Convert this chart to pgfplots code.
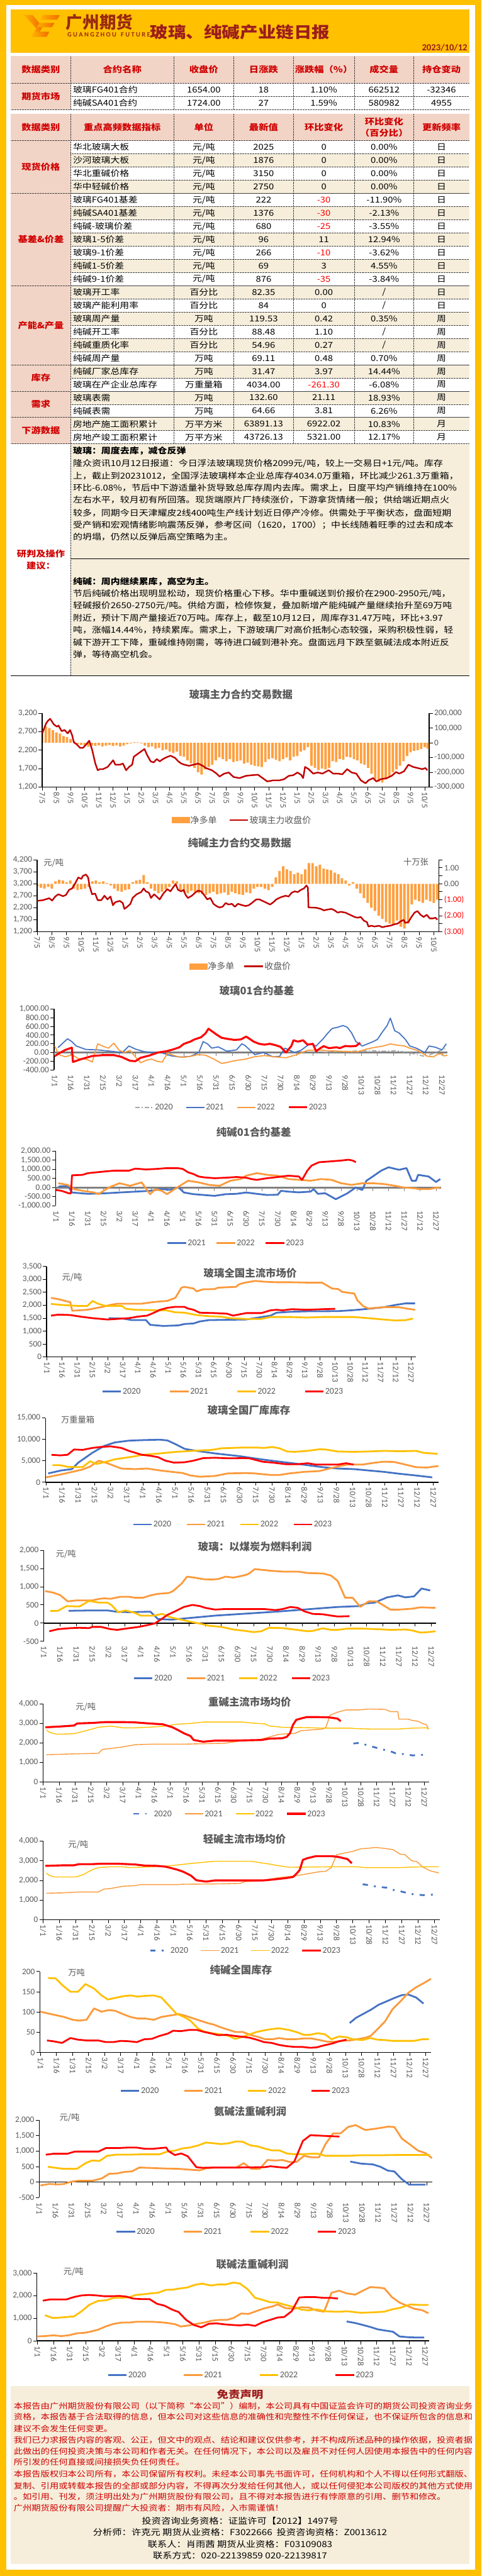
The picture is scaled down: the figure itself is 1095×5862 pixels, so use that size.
\documentclass[border=0pt]{standalone}
\usepackage{fontspec}
\setmainfont{Carlito}
\newfontfamily\cjk[FakeStretch=1.15]{Noto Sans CJK SC}
\newfontfamily\cjkc{Noto Sans CJK SC}
\usepackage{pgfplots}
\pgfplotsset{compat=1.18}

\definecolor{gold}{HTML}{FFC000}
\definecolor{pinkc}{HTML}{F2D4C6}
\definecolor{beige}{HTML}{F6EEDB}
\definecolor{hred}{HTML}{D00000}
\definecolor{dred}{HTML}{9C1C1C}
\definecolor{logored}{HTML}{9A2A10}
\definecolor{logoA}{HTML}{FFB000}
\definecolor{logoB}{HTML}{F26B00}
\definecolor{tgray}{HTML}{595959}
\definecolor{cblue}{HTML}{4472C4}
\definecolor{corange}{HTML}{FB9A3B}
\definecolor{cyellow}{HTML}{FFC000}
\definecolor{cred}{HTML}{FF0000}
\definecolor{cgray}{HTML}{A5A5A5}
\definecolor{zgray}{HTML}{808080}
\definecolor{barorange}{HTML}{FFA040}
\definecolor{darkred}{HTML}{C00000}

\newcommand\fs[1]{\fontsize{#1}{#1}\selectfont}
\newcommand\tf{\cjk\fs{18.5}}
\newcommand\hf{\cjk\bfseries\fs{19}}
\newcommand\rd[1]{\textcolor{red}{#1}}

\pgfplotsset{
  legend image code/.code={\draw[#1, line cap=butt] (0pt,0pt) -- (42pt,0pt);},
  every axis/.append style={
    scale only axis, anchor=north west, scaled ticks=false,
    /pgf/number format/fixed,
    /pgf/number format/assume math mode=true,
    tick label style={font=\fs{19}, text=tgray},
    axis line style={black, line width=1.8pt},
    tick style={black, line width=1.3pt},
    major tick length=8pt, minor tick length=8pt,
    tick align=outside,
    legend columns=-1,
    legend style={draw=none, fill=none, font=\fs{20}, text=tgray, inner sep=0pt, anchor=center},
  },
  season/.style={
    xtick={0,15,...,360},
    xticklabels={1/1,1/16,1/31,2/15,3/2,3/17,4/1,4/16,5/1,5/16,5/31,6/15,6/30,7/15,7/30,8/14,8/29,9/13,9/28,10/13,10/28,11/12,11/27,12/12,12/27},
    x tick label style={rotate=-90, anchor=west},
    axis x line*=bottom, axis y line*=left, tick pos=left,
  },
  zeroaxis/.style={x axis line style={draw=none}, xtick style={draw=none}},
  monthx/.style={
    xtick={0,...,27},
    xticklabels={7/5,8/5,9/5,10/5,11/5,12/5,1/5,2/5,3/5,4/5,5/5,6/5,7/5,8/5,9/5,10/5,11/5,12/5,1/5,2/5,3/5,4/5,5/5,6/5,7/5,8/5,9/5,10/5},
    x tick label style={rotate=-90, anchor=west},
    axis x line*=bottom, axis y line*=left, tick pos=left,
  },
}

% one table row: index, name, unit, value, change, pct, freq
\newcommand\trow[7]{%
  \pgfmathtruncatemacro\ry{320+30*#1}%
  \ifodd#1\relax\fill[beige] (161,\ry) rectangle (1067,\ry+30);\fi
  \node[anchor=west] at (166,\ry+15) {#2};
  \node at (463.5,\ry+15) {#3};
  \node at (599.5,\ry+15) {#4};
  \node at (736.5,\ry+15) {#5};
  \node at (873.5,\ry+15) {#6};
  \node at (1004,\ry+15) {#7};
}

\begin{document}
\begin{tikzpicture}
\useasboundingbox (0pt,0pt) rectangle (1095pt,-5862pt);
\fill[gold] (0pt,0pt) rectangle (1095pt,-5862pt);
\fill[white] (14pt,-11pt) rectangle (1081pt,-5847pt);

\begin{scope}[x=1pt, y=-1pt, every node/.style={inner sep=0pt, font=\tf},
  grid/.style={densely dotted, line width=0.9pt, black!75}]
% ---------- banner
\fill[gold] (25,22) rectangle (1067,120);
\shade[left color=logoA, right color=logoB] (54,34) -- (74,34) -- (94,58) -- (86,68) -- cycle;
\shade[left color=logoA, right color=logoB] (98,34) -- (136,34) -- (130,45) -- (92,45) -- cycle;
\shade[left color=logoA, right color=logoB] (90,52) -- (124,52) -- (118,62) -- (84,62) -- cycle;
\shade[left color=logoA, right color=logoB] (84,62) -- (96,62) -- (84,84) -- (72,84) -- cycle;
\shade[left color=logoA, right color=logoB] (80,72) -- (112,72) -- (106,84) -- (74,84) -- cycle;
\node[anchor=west, font=\cjkc\bfseries\fs{38}, text=logored] at (150,51) {广州期货};
\node[anchor=west, font=\bfseries\fs{15}, text=logored] at (153,79) {G U A N G Z H O U\ \ \ F U T U R E S};
\node[font=\cjk\bfseries\fs{35.5}, text=dred] at (546,73) {玻璃、纯碱产业链日报};
\node[anchor=east, font=\bfseries\fs{21}, text=dred] at (1063,108) {2023/10/12};

% ---------- table 1
\fill[pinkc] (25,128) rectangle (1067,189);
\fill[pinkc] (25,189) rectangle (161,249);
\begin{scope}[every node/.style={inner sep=0pt, font=\hf, text=hred}]
\node at (93,158.5) {数据类别};
\node at (278,158.5) {合约名称};
\node at (463.5,158.5) {收盘价};
\node at (599.5,158.5) {日涨跌};
\node at (736.5,158.5) {涨跌幅（\%）};
\node at (873.5,158.5) {成交量};
\node at (1004,158.5) {持仓变动};
\node at (93,219) {期货市场};
\end{scope}
\node[anchor=west] at (166,204) {玻璃FG401合约};
\node at (463.5,204) {1654.00};
\node at (599.5,204) {18};
\node at (736.5,204) {1.10\%};
\node at (873.5,204) {662512};
\node at (1004,204) {-32346};
\node[anchor=west] at (166,234) {纯碱SA401合约};
\node at (463.5,234) {1724.00};
\node at (599.5,234) {27};
\node at (736.5,234) {1.59\%};
\node at (873.5,234) {580982};
\node at (1004,234) {4955};
\foreach \x in {161,395,532,667,806,941} \draw[grid] (\x,128) -- (\x,249);
\draw[grid] (25,189) -- (1067,189);
\draw[grid] (161,219) -- (1067,219);
\draw[grid] (25,249) -- (1067,249);

% ---------- table 2
\fill[pinkc] (25,259) rectangle (1067,320);
\fill[pinkc] (25,320) rectangle (161,1011);
\trow{0}{华北玻璃大板}{元/吨}{2025}{0}{0.00\%}{日}
\trow{1}{沙河玻璃大板}{元/吨}{1876}{0}{0.00\%}{日}
\trow{2}{华北重碱价格}{元/吨}{3150}{0}{0.00\%}{日}
\trow{3}{华中轻碱价格}{元/吨}{2750}{0}{0.00\%}{日}
\trow{4}{玻璃FG401基差}{元/吨}{222}{\rd{-30}}{-11.90\%}{日}
\trow{5}{纯碱SA401基差}{元/吨}{1376}{\rd{-30}}{-2.13\%}{日}
\trow{6}{纯碱-玻璃价差}{元/吨}{680}{\rd{-25}}{-3.55\%}{日}
\trow{7}{玻璃1-5价差}{元/吨}{96}{11}{12.94\%}{日}
\trow{8}{玻璃9-1价差}{元/吨}{266}{\rd{-10}}{-3.62\%}{日}
\trow{9}{纯碱1-5价差}{元/吨}{69}{3}{4.55\%}{日}
\trow{10}{纯碱9-1价差}{元/吨}{876}{\rd{-35}}{-3.84\%}{日}
\trow{11}{玻璃开工率}{百分比}{82.35}{0.00}{/}{日}
\trow{12}{玻璃产能利用率}{百分比}{84}{0}{/}{日}
\trow{13}{玻璃周产量}{万吨}{119.53}{0.42}{0.35\%}{周}
\trow{14}{纯碱开工率}{百分比}{88.48}{1.10}{/}{周}
\trow{15}{纯碱重质化率}{百分比}{54.96}{0.27}{/}{周}
\trow{16}{纯碱周产量}{万吨}{69.11}{0.48}{0.70\%}{周}
\trow{17}{纯碱厂家总库存}{万吨}{31.47}{3.97}{14.44\%}{周}
\trow{18}{玻璃在产企业总库存}{万重量箱}{4034.00}{\rd{-261.30}}{-6.08\%}{周}
\trow{19}{玻璃表需}{万吨}{132.60}{21.11}{18.93\%}{周}
\trow{20}{纯碱表需}{万吨}{64.66}{3.81}{6.26\%}{周}
\trow{21}{房地产施工面积累计}{万平方米}{63891.13}{6922.02}{10.83\%}{月}
\trow{22}{房地产竣工面积累计}{万平方米}{43726.13}{5321.00}{12.17\%}{月}
\begin{scope}[every node/.style={inner sep=0pt, font=\hf, text=hred}]
\node at (93,289.5) {数据类别};
\node at (278,289.5) {重点高频数据指标};
\node at (463.5,289.5) {单位};
\node at (599.5,289.5) {最新值};
\node at (736.5,289.5) {环比变化};
\node at (873.5,277) {环比变化};
\node at (873.5,303) {（百分比）};
\node at (1004,289.5) {更新频率};
\node at (93,380) {现货价格};
\node at (93,545) {基差\&价差};
\node at (93,740) {产能\&产量};
\node at (93,860) {库存};
\node at (93,920) {需求};
\node at (93,980) {下游数据};
\node at (93,1260) {研判及操作};
\node at (93,1288) {建议：};
\end{scope}
\foreach \x in {161,395,532,667,806,941} \draw[grid] (\x,259) -- (\x,1011);
\foreach \k in {1,...,22} \draw[grid] (161,320+30*\k) -- (1067,320+30*\k);
\foreach \y in {320,440,650,830,890,950,1010} \draw[grid] (25,\y) -- (1067,\y);

% ---------- comment section
\fill[beige] (161,1011) rectangle (1067,1538);
\draw[grid] (161,1011) -- (161,1538);
\draw[black, line width=1pt] (161,1272) -- (1067,1272);
\draw[black, line width=1pt] (25,1538) -- (1067,1538);
\begin{scope}[every node/.style={inner sep=0pt, anchor=west, font=\cjk\fs{18.6}}]
\node[font=\cjk\bfseries\fs{18.6}] at (166,1026) {玻璃：周度去库，减仓反弹};
\node at (166,1055) {隆众资讯10月12日报道：今日浮法玻璃现货价格2099元/吨，较上一交易日+1元/吨。库存};
\node at (166,1083) {上，截止到20231012，全国浮法玻璃样本企业总库存4034.0万重箱，环比减少261.3万重箱，};
\node at (166,1110) {环比-6.08\%，节后中下游适量补货导致总库存周内去库。需求上，日度平均产销维持在100\%};
\node at (166,1138) {左右水平，较月初有所回落。现货端原片厂持续涨价，下游拿货情绪一般；供给端近期点火};
\node at (166,1167) {较多，同期今日天津耀皮2线400吨生产线计划近日停产冷修。供需处于平衡状态，盘面短期};
\node at (166,1195) {受产销和宏观情绪影响震荡反弹，参考区间（1620，1700）；中长线随着旺季的过去和成本};
\node at (166,1222) {的坍塌，仍然以反弹后高空策略为主。};
\node[font=\cjk\bfseries\fs{18.6}] at (166,1323) {纯碱：周内继续累库，高空为主。};
\node at (166,1351) {节后纯碱价格出现明显松动，现货价格重心下移。华中重碱送到价报价在2900-2950元/吨，};
\node at (166,1379) {轻碱报价2650-2750元/吨。供给方面，检修恢复，叠加新增产能纯碱产量继续抬升至69万吨};
\node at (166,1406) {附近，预计下周产量接近70万吨。库存上，截至10月12日，周库存31.47万吨，环比+3.97};
\node at (166,1434) {吨，涨幅14.44\%，持续累库。需求上，下游玻璃厂对高价抵制心态较强，采购积极性弱，轻};
\node at (166,1462) {碱下游开工下降，重碱维持刚需，等待进口碱到港补充。盘面远月下跌至氨碱法成本附近反};
\node at (166,1490) {弹，等待高空机会。};
\end{scope}

% ---------- chart titles and unit labels
\begin{scope}[every node/.style={inner sep=0pt, font=\cjkc\bfseries\fs{23.5}, text=tgray}]
\node at (548,1580) {玻璃主力合约交易数据};
\node at (545,1918) {纯碱主力合约交易数据};
\node at (584,2254) {玻璃01合约基差};
\node at (577,2576) {纯碱01合约基差};
\node at (569,2897) {玻璃全国主流市场价};
\node at (566,3209) {玻璃全国厂库库存};
\node at (580,3519) {玻璃：以煤炭为燃料利润};
\node at (568,3873) {重碱主流市场均价};
\node at (556,4185) {轻碱主流市场均价};
\node at (548,4482) {纯碱全国库存};
\node at (569,4804) {氨碱法重碱利润};
\node at (574,5153) {联碱法重碱利润};
\end{scope}
\begin{scope}[every node/.style={inner sep=0pt, font=\cjkc\fs{19}, text=tgray}]
\node at (122,1963) {元/吨};
\node at (946,1962) {十万张};
\node at (164,2907) {元/吨};
\node at (177,3230) {万重量箱};
\node at (150,3536) {元/吨};
\node at (195,3884) {元/吨};
\node at (178,4197) {元/吨};
\node at (174,4489) {万吨};
\node at (158,4819) {元/吨};
\node at (167,5169) {元/吨};
\end{scope}

% ---------- disclaimer
\fill[beige] (25,5430) rectangle (1067,5835);
\node[font=\cjk\bfseries\fs{23}, text=dred] at (546,5449) {免责声明};
\begin{scope}[every node/.style={inner sep=0pt, anchor=west, font=\cjk\fs{17.8}, text=hred}]
\node at (31,5475) {本报告由广州期货股份有限公司（以下简称“本公司”）编制，本公司具有中国证监会许可的期货公司投资咨询业务};
\node at (31,5500) {资格，本报告基于合法取得的信息，但本公司对这些信息的准确性和完整性不作任何保证，也不保证所包含的信息和};
\node at (31,5527) {建议不会发生任何变更。};
\node at (31,5552) {我们已力求报告内容的客观、公正，但文中的观点、结论和建议仅供参考，并不构成所述品种的操作依据，投资者据};
\node at (31,5578) {此做出的任何投资决策与本公司和作者无关。在任何情况下，本公司以及雇员不对任何人因使用本报告中的任何内容};
\node at (31,5603) {所引发的任何直接或间接损失负任何责任。};
\node at (31,5630) {本报告版权归本公司所有，本公司保留所有权利。未经本公司事先书面许可，任何机构和个人不得以任何形式翻版、};
\node at (31,5657) {复制、引用或转载本报告的全部或部分内容，不得再次分发给任何其他人，或以任何侵犯本公司版权的其他方式使用};
\node at (31,5682) {。如引用、刊发，须注明出处为广州期货股份有限公司，且不得对本报告进行有悖原意的引用、删节和修改。};
\node at (31,5707) {广州期货股份有限公司提醒广大投资者：期市有风险，入市需谨慎！};
\end{scope}
\begin{scope}[every node/.style={inner sep=0pt, font=\cjk\fs{19}, text=black}]
\node at (546,5737) {投资咨询业务资格：证监许可【2012】1497号};
\node at (546,5763) {分析师：许克元\ 期货从业资格：F3022666\ \ 投资咨询资格：Z0013612};
\node at (546,5789) {联系人：肖雨茜\ 期货从业资格：F03109083};
\node at (546,5815) {联系方式：020-22139859 020-22139817};
\end{scope}
\end{scope}

% ================= chart 1: glass main contract
\begin{axis}[at={(96pt,-1623pt)}, width=880pt, height=168pt,
  xmin=0, xmax=27.31, ymin=-300000, ymax=200000,
  hide x axis, axis y line*=right, ytick pos=right, yticklabel pos=right,
  ytick={-300000,-200000,-100000,0,100000,200000}]
\addplot[ybar, bar width=0.17, fill=barorange, draw=none] coordinates {
(0,95000)(0.25,110000)(0.5,100000)(0.75,85000)(1,70000)(1.25,62000)(1.5,45000)(1.75,38000)(2,25000)(2.25,10000)
(2.5,-8000)(2.75,-15000)(3,-20000)(3.25,-27000)(3.5,-20000)(3.75,-22000)(4,-18000)(4.25,-25000)(4.5,-20000)(4.75,-15000)
(5,-22000)(5.25,-18000)(5.5,-25000)(5.75,-20000)(6,-10000)(6.25,-5000)(6.5,5000)(6.75,3000)(7,-5000)(7.25,-20000)
(7.5,-30000)(7.75,-25000)(8,-40000)(8.25,-35000)(8.5,-50000)(8.75,-45000)(9,-60000)(9.25,-70000)(9.5,-60000)(9.75,-90000)
(10,-95000)(10.25,-120000)(10.5,-140000)(10.75,-171000)(11,-200000)(11.25,-216000)(11.5,-180000)(11.75,-164000)(12,-150000)(12.25,-120000)
(12.5,-100000)(12.75,-110000)(13,-125000)(13.25,-110000)(13.5,-130000)(13.75,-125000)(14,-120000)(14.25,-141000)(14.5,-135000)(14.75,-150000)
(15,-156000)(15.25,-160000)(15.5,-164000)(15.75,-130000)(16,-110000)(16.25,-105000)(16.5,-115000)(16.75,-125000)(17,-110000)(17.25,-100000)
(17.5,-120000)(17.75,-95000)(18,-90000)(18.25,-60000)(18.5,-50000)(18.75,-30000)(19,-156000)(19.25,-170000)(19.5,-186000)(19.75,-175000)
(20,-180000)(20.25,-170000)(20.5,-125000)(20.75,-130000)(21,-110000)(21.25,-115000)(21.5,-95000)(21.75,-100000)(22,-110000)(22.25,-120000)
(22.5,-141000)(22.75,-150000)(23,-171000)(23.25,-210000)(23.5,-247000)(23.75,-265000)(24,-270000)(24.25,-250000)(24.5,-232000)(24.75,-201000)
(25,-180000)(25.25,-156000)(25.5,-125000)(25.75,-90000)(26,-65000)(26.25,-55000)(26.5,-50000)(26.75,-42000)(27,-30000)(27.2,-40000)};
\end{axis}
\begin{axis}[at={(96pt,-1623pt)}, width=880pt, height=168pt, monthx,
  xmin=0, xmax=27.31, ymin=1200, ymax=3200, ytick={1200,1700,...,3200},
  legend style={at={(0.516,-0.446)}, /tikz/every even column/.append style={column sep=25pt}}]
\addlegendimage{legend image code/.code={\fill[barorange] (0pt,-6pt) rectangle (40pt,6pt);}}
\addplot[darkred, line width=3.5pt, line join=round] coordinates {
(0,2655)(0.28,2927)(0.39,2988)(0.56,3050)(0.82,2897)(1.04,2836)(1.15,2867)(1.37,2715)(1.58,2745)(1.80,2655)(1.97,2745)(2.12,2594)
(2.23,2412)(2.45,2352)(2.67,2261)(2.88,2261)(3.10,2352)(3.32,2455)(3.53,2200)(3.75,1836)(3.92,1655)(4.07,1685)(4.29,1685)(4.62,1745)
(5.01,1927)(5.16,1806)(5.48,1806)(5.70,1836)(5.92,1655)(6.13,1745)(6.35,1806)(6.46,2018)(6.67,2079)(6.89,2140)(7.22,2230)(7.39,2079)
(7.65,1897)(7.87,1867)(8.08,1958)(8.30,1897)(8.52,1958)(8.84,2018)(9.06,2049)(9.38,1988)(9.60,1897)(9.82,1836)(10.03,1806)(10.36,1776)
(10.68,1806)(11.01,1836)(11.33,1776)(11.55,1715)(11.98,1655)(12.31,1564)(12.52,1485)(12.85,1564)(13.17,1594)(13.50,1473)(13.93,1443)
(14.37,1503)(14.80,1521)(15.23,1533)(15.56,1443)(15.88,1352)(16.32,1382)(16.75,1382)(17.07,1412)(17.40,1503)(17.72,1521)(18.01,1594)
(18.27,1533)(18.42,1443)(18.55,1745)(18.81,1685)(19.13,1564)(19.46,1594)(19.78,1564)(20.22,1655)(20.54,1564)(20.87,1564)(21.19,1546)
(21.52,1685)(21.84,1594)(22.17,1564)(22.49,1382)(22.82,1303)(23.03,1382)(23.36,1443)(23.58,1352)(23.90,1412)(24.33,1443)(24.66,1503)
(24.98,1606)(25.20,1564)(25.53,1624)(25.85,1806)(26.18,1745)(26.50,1715)(26.83,1685)(27.04,1715)(27.19,1654)};
\legend{{\cjkc 净多单},{\cjkc 玻璃主力收盘价}}
\end{axis}

% ================= chart 2: soda ash main contract
\begin{axis}[at={(84.5pt,-1956.7pt)}, width=914.1pt, height=163.3pt,
  xmin=0, xmax=27.36, ymin=-3, ymax=1.5,
  hide x axis, axis y line*=right, ytick pos=right, yticklabel pos=right,
  ytick={-3,-2,-1,0,1}, minor ytick={-2.5,-1.5,-0.5,0.5,1.5},
  yticklabels={\textcolor{red}{(3.00)},\textcolor{red}{(2.00)},\textcolor{red}{(1.00)},0.00,1.00}]
\addplot[ybar, bar width=0.17, fill=barorange, draw=none] coordinates {
(0,-0.15)(0.25,-0.25)(0.5,-0.3)(0.75,-0.2)(1,-0.3)(1.25,0.15)(1.5,0.25)(1.75,0.2)(2,0.1)(2.25,0.2)
(2.5,-0.3)(2.75,-0.4)(3,-0.35)(3.25,-0.3)(3.5,-0.2)(3.75,0.15)(4,0.2)(4.25,0.1)(4.5,0.15)(4.75,0.05)
(5,-0.1)(5.25,-0.3)(5.5,-0.45)(5.75,-0.5)(6,-0.4)(6.25,-0.35)(6.5,0.1)(6.75,0.2)(7,0.25)(7.25,0.55)
(7.5,0.1)(7.75,-0.3)(8,-0.45)(8.25,-0.6)(8.5,-0.5)(8.75,-0.35)(9,-0.2)(9.25,0.2)(9.5,0.15)(9.75,-0.4)
(10,-0.55)(10.25,-0.6)(10.5,-0.45)(10.75,-0.5)(11,-0.6)(11.25,-0.65)(11.5,-0.7)(11.75,-0.6)(12,-0.5)(12.25,-0.65)
(12.5,-0.6)(12.75,-0.55)(13,-0.7)(13.25,-0.5)(13.5,-0.6)(13.75,-0.65)(14,-0.7)(14.25,-0.55)(14.5,-0.6)(14.75,-0.3)
(15,-0.2)(15.25,-0.2)(15.5,-0.3)(15.75,-0.4)(16,-0.2)(16.25,0.4)(16.5,0.8)(16.75,1.1)(17,0.9)(17.25,0.8)
(17.5,0.6)(17.75,0.7)(18,0.6)(18.25,0.9)(18.5,1.3)(18.75,1.3)(19,1.1)(19.25,1.2)(19.5,0.95)(19.75,0.9)
(20,0.85)(20.25,0.7)(20.5,0.6)(20.75,0.35)(21,0.2)(21.25,-0.1)(21.5,0.1)(21.75,-0.3)(22,-0.6)(22.25,-0.9)
(22.5,-1.2)(22.75,-1.5)(23,-1.7)(23.25,-2.0)(23.5,-2.2)(23.75,-2.4)(24,-2.5)(24.25,-2.6)(24.5,-2.3)(24.75,-2.7)
(25,-2.8)(25.25,-2.5)(25.5,-1.3)(25.75,-1.0)(26,-1.1)(26.25,-1.2)(26.5,-1.0)(26.75,-1.1)(27,-1.2)(27.25,-1.0)};
\end{axis}
\begin{axis}[at={(84.5pt,-1956.7pt)}, width=914.1pt, height=163.3pt, monthx,
  xmin=0, xmax=27.36, ymin=1200, ymax=4200, ytick={1200,1700,...,4200},
  legend style={at={(0.506,-0.484)}, /tikz/every even column/.append style={column sep=19pt}}]
\addlegendimage{legend image code/.code={\fill[barorange] (0pt,-6pt) rectangle (40pt,6pt);}}
\addplot[darkred, line width=3.5pt, line join=round] coordinates {
(0,2486)(0.40,2516)(0.82,2596)(1.02,2498)(1.23,2669)(1.44,2761)(1.76,2682)(1.96,2731)(2.17,2945)(2.38,3006)(2.59,3220)(2.80,3465)
(3.01,3404)(3.11,3527)(3.32,3588)(3.47,3465)(3.57,3098)(3.74,2761)(3.95,2792)(4.12,2516)(4.37,2516)(4.58,2700)(4.79,2547)(4.99,2669)
(5.16,2302)(5.31,2425)(5.62,2486)(5.83,2394)(5.94,2149)(6.14,2241)(6.35,2363)(6.50,2608)(6.77,2761)(7.08,2853)(7.25,3006)(7.40,2884)
(7.61,2822)(7.75,2608)(7.96,2761)(8.13,2669)(8.34,2547)(8.59,2792)(8.86,2976)(9.07,2884)(9.28,3067)(9.43,3190)(9.59,2945)(9.80,2884)
(9.97,2945)(10.11,2731)(10.26,2608)(10.53,2700)(10.74,2822)(10.95,2914)(11.16,2884)(11.37,2731)(11.58,2547)(11.79,2608)(12.00,2363)
(12.20,2271)(12.41,2210)(12.62,2241)(12.83,2394)(13.04,2333)(13.25,2363)(13.46,2241)(13.67,2363)(13.98,2302)(14.19,2271)(14.40,2302)
(14.61,2394)(14.92,2547)(15.13,2547)(15.34,2486)(15.55,2425)(15.86,2333)(16.07,2425)(16.28,2547)(16.59,2639)(16.91,2700)(17.12,2670)
(17.32,2822)(17.53,2884)(17.74,2853)(17.95,2945)(18.16,3006)(18.33,3129)(18.43,3037)(18.47,2210)(18.58,2210)(19.00,2198)(19.31,2149)
(19.52,2088)(19.73,2118)(20.04,2149)(20.25,2088)(20.46,1996)(20.67,2027)(20.98,1996)(21.19,1935)(21.40,1874)(21.61,1812)(21.82,1782)
(22.03,1812)(22.24,1659)(22.45,1598)(22.55,1414)(22.76,1445)(22.97,1414)(23.28,1445)(23.49,1384)(23.70,1414)(24.01,1445)(24.33,1506)
(24.54,1537)(24.74,1629)(24.95,1690)(25.06,1567)(25.27,1598)(25.48,1812)(25.69,1996)(25.89,2057)(26.10,1904)(26.31,1812)(26.52,1904)
(26.73,1751)(26.94,1751)(27.11,1782)(27.25,1700)};
\legend{{\cjkc 净多单},{\cjkc 收盘价}}
\end{axis}

% ================= chart 3: glass 01 basis
\begin{axis}[at={(123pt,-2296pt)}, width=894.5pt, height=138.7pt, season, zeroaxis,
  xmin=-0.53, xmax=365, ymin=-400, ymax=1000, ytick={-400,-200,...,1000},
  yticklabel style={/pgf/number format/fixed, /pgf/number format/fixed zerofill, /pgf/number format/precision=2},
  legend style={at={(0.45,-0.615)}, /tikz/every even column/.append style={column sep=27pt}}]
\draw[zgray, line width=4pt] (axis cs:-0.53,0) -- (axis cs:365,0);
\pgfplotsinvokeforeach{0,15,30,45,60,75,90,105,120,135,150,165,180,195,210,225,240,255,270,285,300,315,330,345,360}{\draw[zgray, line width=1.3pt] (axis cs:#1,0) -- ++(0pt,-8pt);}
\addplot[cgray, line width=2.5pt, dash pattern=on 10pt off 5pt on 2pt off 5pt] coordinates {
(250,10)(265,20)(280,35)(294,44)(306,30)(317,44)(326,10)(334,-30)(343,-84)(348,-60)(357,30)(364,100)};
\addplot[cblue, line width=2.5pt, line join=round] coordinates {
(3,112)(12,315)(16,250)(20,150)(29,70)(40,60)(52,30)(63,0)(69,150)(75,80)(83,20)(92,0)(100,-10)(109,-80)(117,-103)(126,-90)
(134,0)(138,250)(142,200)(146,100)(152,130)(160,30)(169,60)(174,200)(177,160)(186,-50)(194,0)(203,-100)(209,-90)(214,100)(223,0)
(229,50)(237,200)(243,150)(249,300)(254,450)(258,552)(263,580)(268,620)(272,580)(276,450)(280,250)(286,150)(291,200)(296,250)
(300,300)(304,450)(309,620)(312,790)(316,500)(320,450)(326,300)(330,150)(336,100)(340,50)(344,0)(348,150)(354,120)(360,60)(364,200)};
\addplot[corange, line width=2.5pt, line join=round] coordinates {
(0,150)(4,-50)(10,-100)(16,-50)(22,-141)(30,-160)(35,-217)(40,200)(45,145)(50,100)(55,214)(60,50)(65,0)(70,50)(75,-100)(80,-236)
(85,-180)(90,-150)(95,-200)(100,-220)(105,-10)(110,-60)(115,-100)(120,-110)(128,-80)(133,-50)(140,-60)(148,-150)(155,-250)(160,-230)
(165,-200)(172,-170)(178,-150)(185,-100)(195,-70)(205,-100)(215,-120)(225,-50)(235,50)(245,60)(255,40)(265,30)(275,20)(282,17)
(290,80)(298,120)(305,146)(312,197)(318,170)(325,150)(330,100)(337,50)(342,-20)(346,-84)(352,-100)(356,-40)(360,-30)(362,-80)(365,-60)};
\addplot[cred, line width=4.5pt, line join=round] coordinates {
(0,-84)(4,-20)(10,60)(16,112)(17,-217)(25,-150)(35,-80)(45,-60)(55,-60)(62,-100)(70,-190)(75,-200)(80,-120)(88,-70)(96,0)(104,30)
(110,70)(116,120)(120,197)(126,250)(130,300)(136,350)(140,434)(143,546)(150,420)(155,340)(160,315)(167,290)(173,300)(178,366)
(185,250)(190,200)(195,180)(200,200)(205,170)(210,129)(213,50)(215,0)(220,150)(222,281)(226,250)(231,280)(235,180)(240,200)
(243,30)(247,100)(250,146)(255,100)(262,120)(265,100)(270,150)(275,140)(280,150)(284,222)};
\legend{2020,2021,2022,2023}
\end{axis}

% ================= chart 4: soda ash 01 basis
\begin{axis}[at={(126.4pt,-2619.2pt)}, width=877.1pt, height=124.4pt, season, zeroaxis,
  xmin=-0.58, xmax=364.9, ymin=-1000, ymax=2000, ytick={-1000,-500,...,2000},
  yticklabel style={/pgf/number format/fixed, /pgf/number format/fixed zerofill, /pgf/number format/precision=2},
  legend style={at={(0.467,-0.682)}, /tikz/every even column/.append style={column sep=21pt}}]
\draw[zgray, line width=4pt] (axis cs:-0.58,0) -- (axis cs:364.9,0);
\pgfplotsinvokeforeach{0,15,30,45,60,75,90,105,120,135,150,165,180,195,210,225,240,255,270,285,300,315,330,345,360}{\draw[zgray, line width=1.3pt] (axis cs:#1,0) -- ++(0pt,-8pt);}
\addplot[cblue, line width=4pt, line join=round] coordinates {
(2,46)(11,92)(15,-277)(30,-350)(46,-323)(60,-277)(75,-231)(89,-185)(100,-92)(108,-130)(116,0)(121,-277)(130,-369)(140,-415)
(150,-461)(161,-369)(171,-350)(180,-277)(190,-350)(200,-415)(210,-400)(213,-185)(220,-230)(230,-270)(241,-230)(244,-92)(248,-350)
(255,-320)(265,-646)(276,-320)(284,0)(290,-140)(294,369)(300,600)(308,922)(315,1107)(325,968)(332,1061)(337,369)(341,369)(343,692)
(353,600)(360,300)(364,461)};
\addplot[corange, line width=4pt, line join=round] coordinates {
(2,231)(11,138)(17,-92)(25,-185)(36,-277)(40,-369)(50,0)(60,231)(70,92)(81,277)(85,-50)(89,-369)(94,-100)(100,-185)(105,-369)
(116,46)(125,369)(135,277)(145,138)(155,92)(165,369)(175,461)(180,646)(190,784)(200,692)(210,646)(220,461)(231,415)(241,369)
(251,461)(261,415)(270,231)(280,138)(290,231)(300,231)(311,184)(321,92)(329,0)(340,-46)(344,-92)(354,-92)(361,0)(364,-50)};
\addplot[cred, line width=4pt, line join=round] coordinates {
(0,-138)(5,-185)(12,-323)(14,-323)(15,664)(25,692)(30,784)(46,876)(55,922)(69,922)(75,1033)(85,987)(95,1015)(105,1061)(115,1061)
(120,1015)(125,830)(130,738)(135,600)(140,554)(150,507)(161,535)(171,572)(180,535)(185,461)(190,415)(200,507)(210,572)(220,646)
(230,600)(233,415)(238,922)(242,1199)(249,1384)(260,1430)(270,1476)(277,1522)(281,1476)(284,1384)};
\legend{2021,2022,2023}
\end{axis}

% ================= chart 5: glass national price
\begin{axis}[at={(106pt,-2882pt)}, width=840pt, height=206pt, season,
  xmin=-0.35, xmax=364.9, ymin=0, ymax=3500, ytick={0,500,...,3500},
  legend style={at={(0.477,-0.38)}, /tikz/every even column/.append style={column sep=63pt}}]
\addplot[cblue, line width=4pt, line join=round] coordinates {
(61,1502)(75,1487)(84,1426)(98,1426)(102,1245)(115,1200)(130,1222)(136,1275)(145,1298)(151,1374)(160,1426)(166,1430)(197,1450)
(221,1600)(227,1713)(242,1751)(257,1766)(288,1774)(303,1811)(318,1864)(333,1925)(345,2015)(355,2075)(364,2075)};
\addplot[corange, line width=4pt, line join=round] coordinates {
(4,2288)(13,2222)(19,2157)(23,2124)(25,1789)(40,1826)(55,1940)(61,2000)(69,2058)(93,2058)(105,2124)(119,2170)(127,2288)(133,2680)
(136,2713)(145,2648)(148,2537)(154,2615)(166,2628)(169,2680)(187,2713)(190,2812)(196,2877)(206,2943)(215,2910)(227,2890)(242,2890)
(257,2877)(272,2877)(282,2648)(288,2628)(292,2517)(304,2452)(307,2190)(313,1960)(318,1879)(333,1925)(348,1925)(357,1864)(364,1826)};
\addplot[cyellow, line width=4pt, line join=round] coordinates {
(4,2053)(14,2015)(30,1977)(40,1977)(45,2166)(51,2053)(58,1977)(74,1977)(78,1864)(87,1826)(105,1811)(118,1804)(127,1728)(136,1713)
(148,1623)(160,1577)(172,1562)(181,1502)(197,1472)(212,1472)(221,1547)(242,1547)(257,1525)(273,1547)(303,1547)(318,1502)(333,1449)
(345,1411)(355,1426)(362,1487)};
\addplot[cred, line width=4pt, line join=round] coordinates {
(4,1600)(11,1638)(23,1623)(33,1562)(45,1502)(60,1449)(69,1472)(81,1502)(90,1562)(99,1600)(105,1698)(112,1826)(119,1902)(127,1940)
(136,1940)(139,1879)(145,1826)(151,1713)(166,1698)(178,1675)(184,1600)(191,1653)(197,1698)(212,1698)(221,1804)(227,1826)(233,1804)
(242,1849)(257,1826)(273,1849)(285,1864)};
\legend{2020,2021,2022,2023}
\end{axis}

% ================= chart 6: glass factory inventory
\begin{axis}[at={(103.4pt,-3226.5pt)}, width=893.6pt, height=146.5pt, season,
  xmin=-0.53, xmax=364.7, ymin=0, ymax=15000, ytick={0,5000,10000,15000},
  legend style={at={(0.476,-0.655)}, /tikz/every even column/.append style={column sep=31pt}}]
\addplot[cblue, line width=4pt, line join=round] coordinates {
(2,2057)(14,2742)(24,3062)(30,4570)(43,6855)(54,8455)(64,9277)(77,9689)(91,9826)(106,9917)(113,9734)(120,8912)(129,7770)(140,7312)
(157,6718)(180,6078)(200,5347)(214,4890)(229,4433)(243,3976)(257,3519)(271,3199)(286,3062)(300,2742)(314,2422)(329,1965)(343,1600)(359,1143)};
\addplot[corange, line width=4pt, line join=round] coordinates {
(0,1143)(14,1828)(26,2514)(34,2971)(41,3656)(49,5027)(57,4433)(70,3199)(83,3062)(94,3199)(106,2742)(117,2422)(127,2148)(134,1600)
(143,1280)(157,1462)(169,2057)(186,2148)(194,2057)(209,1691)(217,1691)(226,2057)(240,2422)(254,2605)(271,3656)(280,4113)(294,4113)
(306,4570)(314,4799)(324,4707)(334,4113)(344,3519)(354,3428)(365,3793)};
\addplot[cyellow, line width=4pt, line join=round] coordinates {
(6,3976)(13,3976)(21,3564)(34,3519)(41,4890)(47,4250)(56,4799)(64,5347)(74,5713)(80,5941)(90,6398)(106,6718)(121,7084)(136,7312)
(154,7541)(163,7907)(183,8090)(194,8090)(203,7998)(210,8226)(217,7907)(224,7175)(231,7084)(243,7312)(254,7678)(260,7632)(271,7175)
(286,7084)(300,7175)(314,7312)(329,7220)(344,7312)(351,6855)(364,6627)};
\addplot[cred, line width=4pt, line join=round] coordinates {
(5,6398)(13,6261)(20,6398)(26,7632)(34,7541)(43,7998)(51,8226)(60,8363)(70,7998)(77,7312)(89,6398)(97,6170)(104,5850)(111,5027)
(119,4570)(129,4662)(137,5027)(146,5621)(157,5713)(169,5576)(183,5621)(189,5576)(201,4799)(211,4570)(223,4205)(234,4205)(243,4433)
(251,4113)(263,4113)(271,4113)(279,4433)(286,4113)};
\legend{2020,2021,2022,2023}
\end{axis}

% ================= chart 7: glass coal-fired profit
\begin{axis}[at={(99.2pt,-3527.9pt)}, width=892.4pt, height=207pt, season, zeroaxis,
  xmin=-0.29, xmax=364.4, ymin=-500, ymax=2000, ytick={-500,0,...,2000},
  legend style={at={(0.48,-0.406)}, /tikz/every even column/.append style={column sep=29pt}}]
\draw[black, line width=2.5pt] (axis cs:-0.29,0) -- (axis cs:364.4,0);
\pgfplotsinvokeforeach{0,15,30,45,60,75,90,105,120,135,150,165,180,195,210,225,240,255,270,285,300,315,330,345,360}{\draw[black, line width=1.3pt] (axis cs:#1,0) -- ++(0pt,-8pt);}
\addplot[cblue, line width=4pt, line join=round] coordinates {
(23,338)(45,348)(59,348)(68,310)(79,300)(99,314)(106,110)(119,95)(159,205)(216,314)(273,443)(293,467)(300,543)(307,560)(319,707)
(329,761)(336,707)(344,734)(351,951)(359,897)};
\addplot[corange, line width=4pt, line join=round] coordinates {
(1,880)(8,842)(15,772)(22,598)(31,625)(45,625)(52,668)(56,679)(62,668)(71,723)(79,723)(85,696)(92,696)(99,761)(106,804)(116,826)
(120,880)(128,1087)(133,1277)(142,1239)(148,1207)(156,1196)(162,1212)(169,1277)(176,1250)(185,1304)(190,1348)(196,1484)(205,1457)
(210,1440)(223,1413)(237,1413)(245,1375)(253,1370)(260,1359)(267,1304)(273,1158)(280,696)(287,696)(294,446)(302,600)(309,598)
(314,516)(322,371)(330,371)(342,395)(350,433)(364,419)};
\addplot[cyellow, line width=4pt, line join=round] coordinates {
(6,333)(13,338)(21,467)(33,457)(42,610)(51,562)(59,562)(63,490)(69,300)(76,348)(85,276)(90,205)(102,205)(110,252)(118,157)(125,110)
(136,38)(148,-33)(153,-71)(165,-105)(176,-176)(187,-214)(195,-248)(202,-224)(209,-129)(222,-138)(230,-167)(245,-224)(250,-214)
(259,-143)(267,-186)(273,-186)(282,-152)(296,-152)(310,-167)(322,-186)(336,-176)(342,-200)(350,-262)(357,-248)(364,-224)};
\addplot[cred, line width=4pt, line join=round] coordinates {
(5,-224)(13,-167)(25,-138)(33,-129)(42,-138)(45,-105)(53,-105)(62,-167)(68,-186)(76,-152)(88,-105)(96,-57)(103,-10)(108,86)
(115,229)(122,324)(130,443)(138,500)(145,467)(150,419)(159,371)(168,386)(182,386)(205,386)(215,357)(222,386)(229,443)(236,419)
(242,324)(250,252)(259,243)(267,205)(273,181)(284,190)};
\legend{2020,2021,2022,2023}
\end{axis}

% ================= chart 8: heavy soda price
\begin{axis}[at={(97.8pt,-3877.2pt)}, width=877.8pt, height=178pt, season,
  xmin=-0.29, xmax=364.4, ymin=0, ymax=4000, ytick={0,1000,...,4000},
  legend style={at={(0.483,-0.406)}, /tikz/every even column/.append style={column sep=27pt}}]
\addplot[cblue, line width=4pt, dash pattern=on 12pt off 14pt on 4pt off 14pt] coordinates {
(293,1973)(299,2000)(306,1884)(316,1733)(320,1671)(328,1573)(333,1467)(342,1422)(349,1360)(357,1396)(364,1360)};
\addplot[corange, line width=2pt, line join=round] coordinates {
(3,1396)(17,1422)(29,1440)(52,1467)(56,1671)(66,1733)(75,1796)(87,1911)(104,1938)(133,1938)(148,1956)(171,1982)(185,2089)(203,2151)
(214,2311)(223,2444)(238,2489)(243,2622)(264,2711)(267,2800)(271,3422)(278,3573)(286,3689)(299,3689)(307,3733)(323,3716)(328,3600)
(335,3600)(336,3218)(345,3218)(348,3156)(354,3111)(359,2978)(362,2933)(364,2711)};
\addplot[cyellow, line width=2pt, line join=round] coordinates {
(3,2667)(6,2533)(13,2444)(29,2471)(40,2622)(52,2800)(64,2862)(75,2773)(87,2773)(104,2818)(116,2862)(125,2951)(139,2996)(151,3067)
(188,3067)(200,3004)(209,2978)(214,2862)(226,2800)(249,2782)(264,2756)(290,2756)(296,2729)(310,2711)(336,2711)(348,2756)(362,2773)(364,2711)};
\addplot[cred, line width=4.5pt, line join=round] coordinates {
(2,2800)(17,2844)(29,2889)(32,2996)(46,3022)(59,3067)(75,3067)(87,3049)(98,3004)(113,2951)(122,2800)(127,2667)(133,2489)(139,2356)
(142,2151)(151,2062)(162,2116)(177,2116)(191,2133)(206,2151)(214,2222)(226,2240)(230,2311)(233,2489)(236,2933)(239,3182)(245,3271)
(249,3324)(258,3324)(270,3307)(278,3244)(281,3111)};
\legend{2020,2021,2022,2023}
\end{axis}

% ================= chart 9: light soda price
\begin{axis}[at={(97.8pt,-4189.6pt)}, width=902.2pt, height=178.9pt, season,
  xmin=0, xmax=364.8, ymin=0, ymax=4000, ytick={0,1000,...,4000},
  legend style={at={(0.51,-0.394)}, /tikz/every even column/.append style={column sep=26pt}}]
\addplot[cblue, line width=4pt, dash pattern=on 12pt off 14pt on 4pt off 14pt] coordinates {
(294,1806)(299,1762)(308,1674)(316,1630)(320,1542)(328,1454)(336,1348)(342,1278)(350,1251)(359,1278)(364,1278)};
\addplot[corange, line width=2pt, line join=round] coordinates {
(3,1348)(17,1366)(34,1410)(51,1410)(56,1559)(62,1586)(73,1700)(85,1736)(90,1789)(124,1789)(130,1806)(164,1824)(181,1850)(186,1938)
(200,1982)(209,2070)(217,2141)(232,2229)(243,2335)(254,2441)(260,2467)(265,2643)(270,3304)(277,3391)(285,3478)(292,3609)(299,3635)
(306,3678)(313,3635)(322,3565)(328,3348)(333,3304)(339,3000)(344,2957)(349,2687)(356,2493)(364,2379)};
\addplot[cyellow, line width=2pt, line join=round] coordinates {
(3,2379)(6,2247)(11,2176)(30,2176)(37,2291)(42,2450)(46,2560)(51,2650)(62,2696)(73,2696)(79,2652)(90,2670)(102,2696)(116,2739)
(130,2826)(141,2887)(158,2974)(175,2974)(192,2974)(198,2913)(206,2852)(215,2765)(226,2670)(243,2678)(271,2696)(288,2696)(296,2652)
(328,2652)(339,2678)(353,2696)(364,2696)};
\addplot[cred, line width=4.5pt, line join=round] coordinates {
(2,2739)(17,2765)(28,2765)(33,2826)(45,2826)(54,2852)(68,2852)(85,2809)(93,2757)(105,2739)(113,2696)(121,2583)(123,2555)(129,2441)
(136,2247)(141,2009)(150,1938)(158,2000)(172,2000)(186,2000)(203,2000)(213,2053)(223,2115)(230,2176)(233,2335)(236,2522)(239,3043)
(243,3130)(251,3235)(265,3235)(271,3200)(280,3087)(284,2870)};
\legend{2020,2021,2022,2023}
\end{axis}

% ================= chart 10: soda ash national inventory
\begin{axis}[at={(90.8pt,-4486.3pt)}, width=890.2pt, height=184.7pt, season,
  xmin=-0.58, xmax=365.3, ymin=0, ymax=200, ytick={0,50,...,200},
  legend style={at={(0.499,-0.471)}, /tikz/every even column/.append style={column sep=54pt}}]
\addplot[cblue, line width=4pt, line join=round] coordinates {
(289,73)(295,86)(302,96)(309,106)(316,118)(324,127)(331,135)(338,142)(344,143)(351,136)(358,121)};
\addplot[corange, line width=4pt, line join=round] coordinates {
(0,101)(8,96)(15,92)(22,88)(30,81)(36,79)(43,81)(50,109)(57,101)(64,105)(70,103)(77,95)(84,88)(91,84)(98,84)(106,81)(113,88)(120,91)
(129,95)(134,92)(141,86)(149,79)(156,73)(162,69)(169,62)(176,56)(182,51)(189,51)(197,43)(203,39)(210,33)(217,33)(223,36)(230,33)
(238,33)(246,35)(253,35)(261,31)(268,27)(275,27)(282,29)(289,30)(296,33)(304,37)(309,42)(315,58)(322,77)(329,107)(337,128)(344,148)
(351,161)(358,171)(365,182)};
\addplot[cyellow, line width=4pt, line join=round] coordinates {
(7,184)(14,183)(21,165)(28,150)(35,150)(42,169)(50,158)(57,141)(63,131)(70,135)(77,139)(84,141)(91,138)(98,140)(106,141)(113,136)
(120,116)(127,96)(134,88)(140,79)(147,60)(153,52)(160,48)(169,45)(176,41)(182,34)(189,39)(193,43)(202,51)(209,55)(216,58)(223,60)
(232,56)(239,51)(246,44)(252,44)(259,48)(266,45)(272,33)(279,40)(286,38)(292,33)(301,31)(308,36)(315,32)(322,31)(329,29)(338,29)
(349,29)(357,33)(363,33)};
\addplot[cred, line width=4pt, line join=round] coordinates {
(6,30)(12,28)(20,24)(28,36)(35,32)(43,30)(54,30)(61,26)(68,26)(75,29)(83,28)(90,26)(97,33)(104,34)(111,41)(119,47)(124,54)(131,53)
(139,56)(146,56)(153,51)(160,47)(166,43)(174,44)(182,41)(189,39)(195,37)(202,32)(209,26)(216,24)(223,19)(230,16)(238,14)(245,14)
(252,12)(258,13)(265,18)(272,22)(279,28)(286,32)};
\legend{2020,2021,2022,2023}
\end{axis}

% ================= chart 11: ammonia-soda process profit
\begin{axis}[at={(89.4pt,-4824.6pt)}, width=893.6pt, height=176.1pt, season, zeroaxis,
  xmin=0, xmax=365.2, ymin=-500, ymax=2000, ytick={-500,0,...,2000},
  legend style={at={(0.501,-0.442)}, /tikz/every even column/.append style={column sep=62pt}}]
\draw[black, line width=2.5pt] (axis cs:0,0) -- (axis cs:365.2,0);
\pgfplotsinvokeforeach{0,15,30,45,60,75,90,105,120,135,150,165,180,195,210,225,240,255,270,285,300,315,330,345,360}{\draw[black, line width=1.3pt] (axis cs:#1,0) -- ++(0pt,-8pt);}
\addplot[cblue, line width=4pt, line join=round] coordinates {
(289,662)(299,596)(310,571)(317,495)(324,369)(330,343)(337,91)(344,-86)(359,-86)};
\addplot[corange, line width=4pt, line join=round] coordinates {
(1,-111)(9,-61)(18,-76)(23,-61)(30,15)(36,40)(49,40)(58,116)(65,268)(72,278)(79,328)(86,343)(93,470)(100,460)(112,444)(120,434)
(129,429)(136,409)(149,379)(155,444)(163,470)(175,470)(183,470)(190,611)(197,429)(205,429)(212,712)(219,697)(226,712)(233,646)
(239,646)(246,848)(253,798)(260,798)(266,1227)(273,1571)(280,1571)(287,1780)(294,1840)(303,1680)(312,1722)(319,1760)(324,1790)
(330,1780)(337,1404)(344,1227)(352,1015)(359,934)(365,773)};
\addplot[cyellow, line width=4pt, line join=round] coordinates {
(8,495)(15,460)(22,429)(35,429)(43,611)(49,697)(56,682)(63,848)(71,884)(83,884)(98,899)(112,899)(119,985)(126,1015)(133,1086)
(140,1116)(148,1187)(155,1278)(162,1253)(169,1227)(176,1253)(183,1313)(189,1303)(196,1187)(203,1152)(210,1076)(216,1025)(223,1025)
(230,924)(237,899)(246,899)(252,914)(259,914)(266,848)(273,848)(287,848)(297,864)(314,864)(332,874)(363,874)};
\addplot[cred, line width=4pt, line join=round] coordinates {
(6,884)(13,914)(26,914)(33,985)(55,985)(62,1101)(75,1101)(83,1116)(90,1116)(98,1076)(106,1076)(118,1116)(120,1000)(126,874)
(132,924)(138,833)(146,480)(152,460)(163,470)(180,470)(209,480)(215,510)(223,480)(230,460)(237,662)(245,1328)(252,1515)(263,1495)
(272,1480)(279,1470)};
\legend{2020,2021,2022,2023}
\end{axis}

% ================= chart 12: joint-soda process profit
\begin{axis}[at={(83.8pt,-5172.9pt)}, width=892.2pt, height=153.9pt, season,
  xmin=-0.57, xmax=363.6, ymin=0, ymax=3000, ytick={0,1000,2000,3000},
  legend style={at={(0.52,-0.504)}, /tikz/every even column/.append style={column sep=82pt}}]
\addplot[cblue, line width=4pt, line join=round] coordinates {
(287,860)(295,790)(302,706)(309,615)(316,510)(323,455)(330,406)(336,196)(344,161)(352,147)(359,147)};
\addplot[corange, line width=4pt, line join=round] coordinates {
(0,196)(7,210)(15,245)(22,210)(29,245)(37,336)(44,357)(49,406)(56,490)(64,650)(71,755)(78,811)(85,811)(92,846)(99,846)(106,846)
(114,825)(121,790)(128,734)(133,636)(141,685)(148,755)(155,811)(162,895)(169,930)(176,930)(182,1014)(189,1210)(196,1196)(203,1315)
(210,1434)(218,1524)(223,1615)(230,1455)(238,1420)(245,1490)(252,1476)(259,1350)(266,1294)(273,2133)(280,2224)(287,2105)(295,2049)
(302,2224)(309,2385)(316,2364)(322,2329)(329,1944)(336,1699)(343,1559)(350,1420)(357,1364)(363,1224)};
\addplot[cyellow, line width=4pt, line join=round] coordinates {
(7,1140)(14,1014)(22,1035)(34,1084)(41,1315)(48,1594)(56,1769)(64,1804)(71,1909)(79,1909)(86,1944)(91,2035)(98,2063)(105,2105)
(112,2133)(119,2259)(126,2273)(133,2329)(139,2364)(146,2483)(153,2538)(161,2455)(168,2503)(175,2503)(182,2587)(188,2538)(195,2294)
(202,1909)(209,1818)(216,1713)(223,1699)(230,1594)(238,1503)(245,1385)(252,1350)(259,1399)(267,1315)(275,1294)(282,1294)(287,1315)
(300,1245)(313,1266)(322,1294)(330,1406)(336,1455)(346,1615)(354,1594)(363,1594)};
\addplot[cred, line width=4pt, line join=round] coordinates {
(5,1783)(12,1839)(27,1839)(34,1944)(41,2014)(48,2035)(55,2014)(62,1979)(69,1979)(76,1993)(82,1965)(89,1874)(96,1853)(104,1853)
(111,1643)(118,1559)(125,1385)(131,1280)(138,930)(145,706)(152,601)(159,755)(166,776)(173,734)(180,706)(188,685)(195,720)(202,664)
(209,825)(216,930)(223,1035)(229,1056)(236,1315)(243,1923)(250,1944)(257,1944)(265,1909)(272,1909)(279,1874)};
\legend{2020,2021,2022,2023}
\end{axis}
\end{tikzpicture}
\end{document}
